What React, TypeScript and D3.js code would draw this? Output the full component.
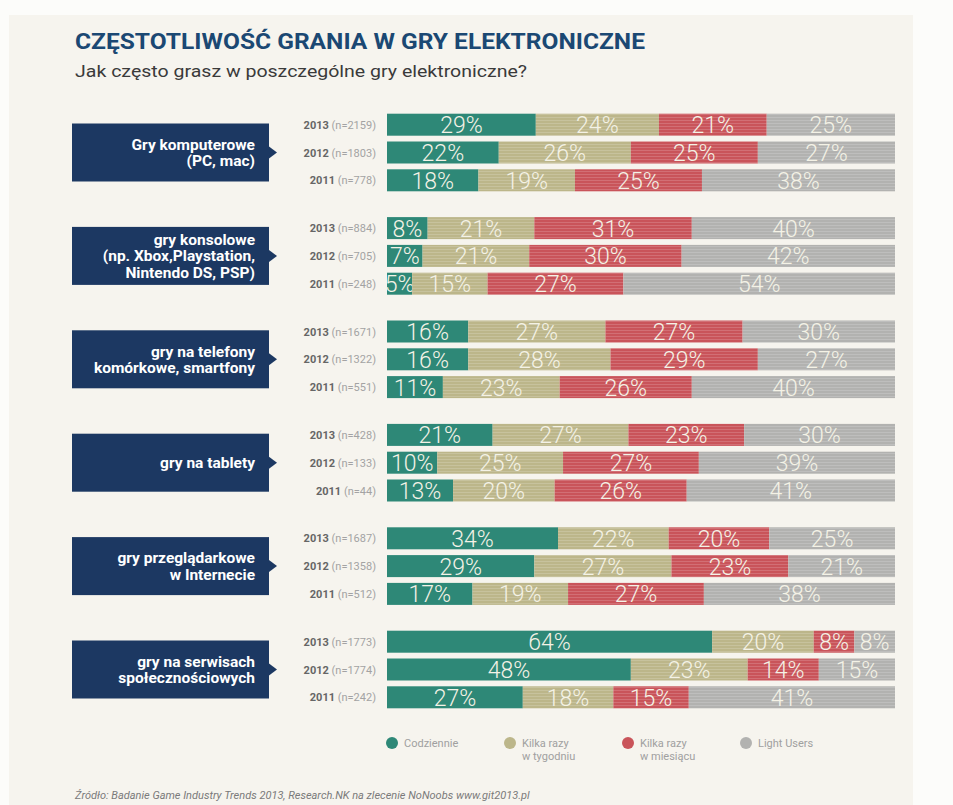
import React from "react";
import * as d3 from "d3";

const title = "CZĘSTOTLIWOŚĆ GRANIA W GRY ELEKTRONICZNE";
const subtitle = "Jak często grasz w poszczególne gry elektroniczne?";
const source = "Źródło: Badanie Game Industry Trends 2013, Research.NK na zlecenie NoNoobs www.git2013.pl";

const seriesNames = ["Codziennie", "Kilka razy w tygodniu", "Kilka razy w miesiącu", "Light Users"];
const legendLines = [["Codziennie"], ["Kilka razy", "w tygodniu"], ["Kilka razy", "w miesiącu"], ["Light Users"]];
const colors = ["#2e8877", "#bcb68a", "#c9545a", "#b2b2b0"];

const categories = [
  ["Gry komputerowe", "(PC, mac)"],
  ["gry konsolowe", "(np. Xbox,Playstation,", "Nintendo DS, PSP)"],
  ["gry na telefony", "komórkowe, smartfony"],
  ["gry na tablety"],
  ["gry przeglądarkowe", "w Internecie"],
  ["gry na serwisach", "społecznościowych"],
];
const years = ["2013", "2012", "2011"];
const sampleSizes = [
  [2159, 1803, 778],
  [884, 705, 248],
  [1671, 1322, 551],
  [428, 133, 44],
  [1687, 1358, 512],
  [1773, 1774, 242],
];
const values: number[][][] = [
  [[29, 24, 21, 25], [22, 26, 25, 27], [18, 19, 25, 38]],
  [[8, 21, 31, 40], [7, 21, 30, 42], [5, 15, 27, 54]],
  [[16, 27, 27, 30], [16, 28, 29, 27], [11, 23, 26, 40]],
  [[21, 27, 23, 30], [10, 25, 27, 39], [13, 20, 26, 41]],
  [[34, 22, 20, 25], [29, 27, 23, 21], [17, 19, 27, 38]],
  [[64, 20, 8, 8], [48, 23, 14, 15], [27, 18, 15, 41]],
];

const FONT = "Roboto, 'DejaVu Sans Condensed', sans-serif";

export default function App() {
  const W = 953, H = 805;
  const barX0 = 387, barX1 = 895;
  const groupY = d3.scaleLinear().domain([0, 5]).range([152.5, 669.5]);
  const rowY = d3.scalePoint<string>().domain(years).range([-27.8, 27.8]);
  const barH = 22;
  const legendX = d3.scalePoint<string>().domain(seriesNames).range([392, 746]);

  return (
    <svg width={W} height={H} style={{ position: "absolute", left: 0, top: 0 }} fontFamily={FONT}>
      <defs>
        <pattern id="stripes" width="4" height="3" patternUnits="userSpaceOnUse">
          <rect x="0" y="0" width="4" height="1" fill="#ffffff" opacity="0.16" />
        </pattern>
      </defs>
      <rect x={0} y={0} width={W} height={H} fill="#fcfcfa" />
      <rect x={9} y={15} width={904} height={790} fill="#f6f4ee" />

      <text x={75} y={49} fontSize={22} fontWeight={700} fill="#1b4873" textLength={570} lengthAdjust="spacingAndGlyphs">{title}</text>
      <text x={75} y={77} fontSize={17} fill="#3a3a3a" textLength={452} lengthAdjust="spacingAndGlyphs">{subtitle}</text>

      {categories.map((cat, g) => {
        const cy = groupY(g);
        const lh = 16.5;
        const n = cat.length;
        return (
          <g key={g}>
            <rect x={72} y={cy - 29} width={197} height={58} fill="#1c3862" />
            <path d={`M269,${cy - 6}L277,${cy}L269,${cy + 6}Z`} fill="#1c3862" />
            {cat.map((line, i) => (
              <text key={i} x={255} y={cy + (i - (n - 1) / 2) * lh + 5.5} textAnchor="end" fontSize={15.5} fontWeight={700} fill="#ffffff">{line}</text>
            ))}
            {years.map((yr, r) => {
              const vals = values[g][r];
              const total = d3.sum(vals);
              const x = d3.scaleLinear().domain([0, total]).range([barX0, barX1]);
              const cum = d3.cumsum(vals);
              const y = cy + (rowY(yr) as number);
              return (
                <g key={yr}>
                  <text x={376} y={y + 4} textAnchor="end" fontSize={11}>
                    <tspan fontWeight={700} fill="#666">{yr}</tspan>
                    <tspan fill="#a3a3a3">{` (n=${sampleSizes[g][r]})`}</tspan>
                  </text>
                  {vals.map((v, k) => {
                    const a = x(cum[k] - v), b = x(cum[k]);
                    return (
                      <g key={k}>
                        <rect x={a} y={y - barH / 2} width={b - a} height={barH} fill={colors[k]} />
                        {k > 0 && <rect x={a} y={y - barH / 2} width={b - a} height={barH} fill="url(#stripes)" />}
                        <text x={(a + b) / 2} y={y + 8.5} textAnchor="middle" fontSize={23} fontWeight={300} fill="#f4f2e6">{`${v}%`}</text>
                      </g>
                    );
                  })}
                </g>
              );
            })}
          </g>
        );
      })}

      {seriesNames.map((s, k) => {
        const lx = legendX(s) as number;
        return (
          <g key={s}>
            <circle cx={lx} cy={743} r={6} fill={colors[k]} />
            {legendLines[k].map((t, i) => (
              <text key={i} x={lx + 12} y={747 + i * 12.5} fontSize={11} fill="#a0a0a0">{t}</text>
            ))}
          </g>
        );
      })}

      <text x={75} y={799} fontSize={11} fontStyle="italic" fill="#7a7a7a">{source}</text>
    </svg>
  );
}
